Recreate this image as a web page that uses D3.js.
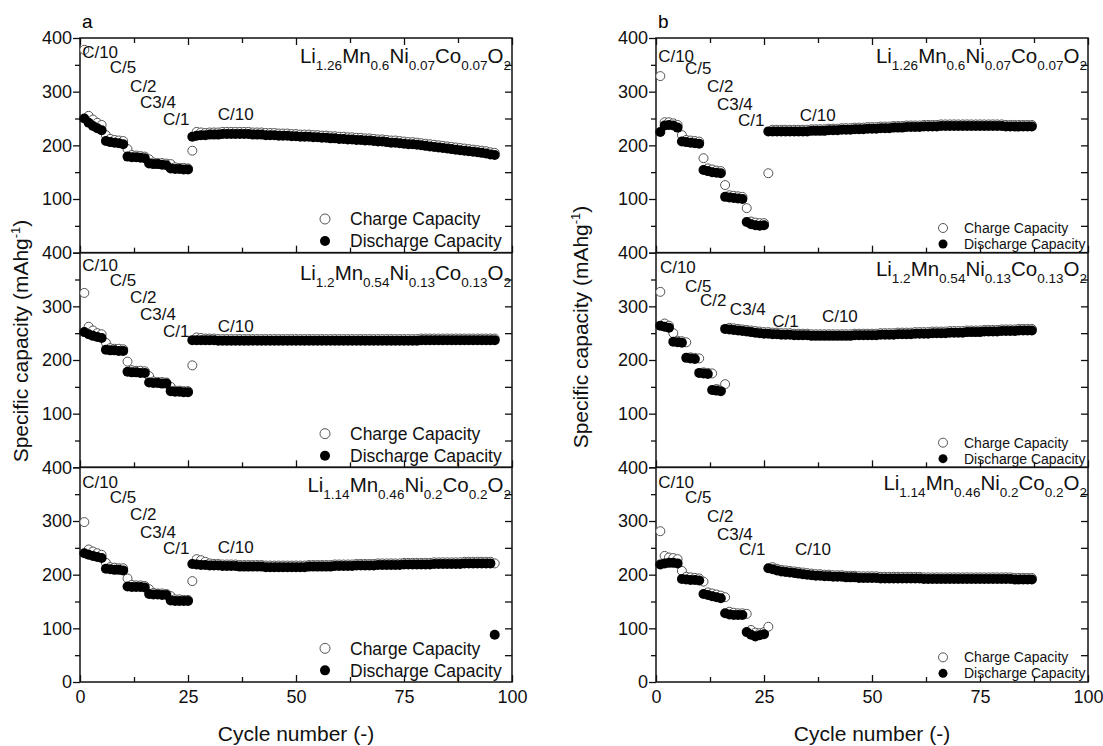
<!DOCTYPE html>
<html>
<head>
<meta charset="utf-8">
<script src="https://cdn.jsdelivr.net/npm/d3@7"></script>
<style>
  body { margin: 0; background: #fff; }
  svg { display: block; font-family: "Liberation Sans", Arial, sans-serif; }
</style>
</head>
<body>
<svg id="chart" width="1103" height="746"></svg>
<script>
// capacities in mAh/g, one value per cycle starting at cycle 1
const a1Charge = [378,255,248,242,238, 219,212,210,209,208, 193,182,181,180,179, 174,168,167,167,166, 165,159,158,158,157, 190,
  225,224,223,224,224,224,225,225,225,225,225,225,225,
  224,224,224,223,223,223,222,222,222,221,
  221,220,220,220,219,219,218,218,217,217,
  216,216,215,215,214,214,213,213,212,211,
  211,210,209,209,208,207,206,206,205,204,
  203,202,201,200,199,198,197,196,195,194,
  193,192,191,190,189,187,186];
const a1Discharge = [250,242,236,232,228, 208,206,205,204,202, 179,178,178,177,176, 166,165,165,164,163, 157,156,156,155,155, 216,
  218,219,219,220,220,220,221,221,221,221,221,221,221,
  220,220,220,219,219,219,218,218,218,217,
  217,216,216,216,215,215,214,214,213,213,
  212,212,211,211,210,210,209,209,208,207,
  207,206,205,205,204,203,202,202,201,200,
  199,198,197,196,195,194,193,192,191,190,
  189,188,187,186,185,183,182];

const a2Charge = [325,262,255,250,248, 232,222,221,221,220, 197,181,180,180,179, 170,160,159,159,158, 150,143,143,142,142, 190,
  242,241,240,240,240,239,239,239,239,239,239,239,239,
  239,239,239,239,239,239,239,239,239,239,
  239,239,239,239,239,239,239,239,239,239,
  239,239,239,239,239,239,239,239,239,239,
  239,239,239,239,239,239,239,239,239,240,
  240,240,240,240,240,240,240,240,240,240,
  240,240,240,240,240,240,240];
const a2Discharge = [252,248,245,243,241, 219,218,218,217,217, 178,177,177,176,176, 158,157,157,156,156, 142,141,141,140,140, 237,
  237,237,237,237,237,236,236,236,236,236,236,236,236,
  236,236,236,236,236,236,236,236,236,236,
  236,236,236,236,236,236,236,236,236,236,
  236,236,236,236,236,236,236,236,236,236,
  236,236,236,236,236,236,236,236,236,237,
  237,237,237,237,237,237,237,237,237,237,
  237,237,237,237,237,237,237];

const a3Charge = [298,247,243,240,237, 222,214,213,212,212, 193,181,180,180,179, 173,166,165,165,164, 160,154,154,153,153, 188,
  229,227,224,221,220,220,219,219,219,219,218,218,218,
  218,218,218,217,217,217,217,217,217,217,
  217,217,217,218,218,218,218,218,218,219,
  219,219,219,219,220,220,220,220,220,221,
  221,221,221,221,221,222,222,222,222,222,
  222,222,223,223,223,223,223,223,223,224,
  224,224,224,224,224,224,
  221];
const a3Discharge = [240,237,235,233,231, 211,210,209,209,208, 178,177,177,177,176, 164,163,163,162,162, 152,151,151,151,151, 220,
  219,218,218,217,217,217,216,216,216,216,215,215,215,
  215,215,215,214,214,214,214,214,214,214,
  214,214,214,215,215,215,215,215,215,216,
  216,216,216,216,217,217,217,217,217,218,
  218,218,218,218,218,219,219,219,219,219,
  219,219,220,220,220,220,220,220,220,221,
  221,221,221,221,221,221,
  88];

const b1Charge = [329,243,243,241,238, 219,210,209,208,207, 176,157,155,153,152, 126,107,106,105,104, 83,58,56,55,55, 148,
  229,229,229,229,229,229,229,229,229,230,230,230,230,
  231,231,231,232,232,232,233,233,233,234,
  234,234,235,235,235,236,236,236,237,237,
  237,237,238,238,238,238,239,239,239,239,
  239,239,239,239,239,239,239,239,239,239,
  239,238,238,238,238,238,238,238];
const b1Discharge = [225,237,238,237,233, 207,206,205,204,203, 154,152,150,149,148, 104,103,102,101,100, 57,53,51,50,51, 226,
  226,226,226,226,226,226,226,226,226,227,227,227,227,
  228,228,228,229,229,229,230,230,230,231,
  231,231,232,232,232,233,233,233,234,234,
  234,234,235,235,235,235,236,236,236,236,
  236,236,236,236,236,236,236,236,236,236,
  236,235,235,235,235,235,235,235];

const b2Charge = [327,268,264, 250,236,235, 233,205,204, 203,177,176, 175,146,145, 155,
  260,259,258,
  257,256,255,254,253,252,252,251,251,250,
  250,250,249,249,249,249,248,248,248,248,
  248,248,248,248,248,248,249,249,249,249,
  249,249,250,250,250,250,251,251,251,251,
  252,252,252,252,253,253,253,253,254,254,
  254,254,255,255,255,255,256,256,256,256,
  257,257,257,257,258,258,258,258];
const b2Discharge = [264,262,260, 234,233,232, 204,203,202, 176,175,174, 144,143,142,
  258,257,256,255,
  254,253,252,251,250,249,249,248,248,247,
  247,247,246,246,246,246,245,245,245,245,
  245,245,245,245,245,245,246,246,246,246,
  246,246,247,247,247,247,248,248,248,248,
  249,249,249,249,250,250,250,250,251,251,
  251,251,252,252,252,252,253,253,253,253,
  254,254,254,254,255,255,255,255];

const b3Charge = [281,235,232,231,229, 207,196,195,194,193, 187,167,165,163,161, 158,131,129,128,128, 127,97,92,91,93, 103,
  214,211,209,208,207,206,205,204,203,202,201,201,200,
  200,199,199,199,198,198,198,197,197,197,
  197,197,196,196,196,196,196,196,196,196,
  196,196,195,195,195,195,195,195,195,195,
  195,195,195,195,195,195,195,195,195,195,
  195,195,195,194,194,194,194,194];
const b3Discharge = [219,221,222,222,221, 192,191,190,190,189, 164,162,160,158,156, 128,126,125,125,125, 93,88,85,87,89, 212,
  210,208,206,205,204,203,202,201,200,199,198,198,197,
  197,196,196,196,195,195,195,194,194,194,
  194,194,193,193,193,193,193,193,193,193,
  193,193,192,192,192,192,192,192,192,192,
  192,192,192,192,192,192,192,192,192,192,
  192,192,192,191,191,191,191,191];

// compositions: main / subscript pieces alternate
const formulas = [
  ["Li", "1.26", "Mn", "0.6", "Ni", "0.07", "Co", "0.07", "O", "2"],
  ["Li", "1.2", "Mn", "0.54", "Ni", "0.13", "Co", "0.13", "O", "2"],
  ["Li", "1.14", "Mn", "0.46", "Ni", "0.2", "Co", "0.2", "O", "2"],
];
const rateLabels = ["C/10", "C/5", "C/2", "C3/4", "C/1", "C/10"];
const legendNames = ["Charge Capacity", "Discharge Capacity"];
const xTicks = [0, 25, 50, 75, 100];
const yTicks = [0, 100, 200, 300, 400];
const panelLetters = ["a", "b"];

// layout
const plotW = 432;
const plotTop = 38;
const subH = 214.67;
const panelX = [80, 656];

const panels = [
  {
    letter: panelLetters[0],
    rows: [
      { charge: a1Charge, discharge: a1Discharge, formula: formulas[0], fy: 25,
        rates: [[0.5, 363], [6.9, 335], [11.6, 299], [13.9, 270], [19.2, 238], [31.9, 247]] },
      { charge: a2Charge, discharge: a2Discharge, formula: formulas[1], fy: 27,
        rates: [[0.5, 366], [6.9, 338], [11.6, 307], [13.9, 275], [19.2, 243], [31.9, 253]] },
      { charge: a3Charge, discharge: a3Discharge, formula: formulas[2], fy: 25,
        rates: [[0.5, 361], [6.9, 333], [11.6, 301], [13.9, 268], [19.2, 238], [31.9, 240]] },
    ],
    legend: { x: 245, y: [181, 203], gap: 25, font: 17.5, r: 5 },
    yTitle: [28, 341],
  },
  {
    letter: panelLetters[1],
    rows: [
      { charge: b1Charge, discharge: b1Discharge, formula: formulas[0], fy: 25,
        rates: [[0.5, 355], [6.7, 333], [11.8, 299], [14.1, 266], [19, 236], [33.3, 245]] },
      { charge: b2Charge, discharge: b2Discharge, formula: formulas[1], fy: 23,
        rates: [[0.9, 363], [6.7, 327], [10.2, 301], [17.1, 283], [26.9, 262], [38.4, 270]] },
      { charge: b3Charge, discharge: b3Discharge, formula: formulas[2], fy: 23,
        rates: [[0.5, 361], [6.7, 333], [11.8, 298], [14.1, 264], [19.2, 236], [32.2, 236]] },
    ],
    legend: { x: 287, y: [190, 206], gap: 21, font: 14, r: 4.5 },
    yTitle: [588, 327],
  },
];

const svg = d3.select("#chart");

const x = d3.scaleLinear().domain([0, 100]).range([0, plotW]);
const y = d3.scaleLinear().domain([0, 400]).range([subH, 0]);

function styleAxis(sel) {
  sel.select(".domain").remove();
  sel.selectAll("line").attr("stroke", "#111").attr("stroke-width", 1.3);
  sel.selectAll("text")
    .attr("font-size", 18)
    .attr("font-family", '"Liberation Sans", Arial, sans-serif')
    .attr("fill", "#111");
}

panels.forEach((panel, pi) => {
  const pg = svg.append("g").attr("transform", `translate(${panelX[pi]},0)`);

  pg.append("text")
    .attr("x", 2)
    .attr("y", 28)
    .attr("font-size", 19)
    .text(panel.letter);

  panel.rows.forEach((row, ri) => {
    const top = plotTop + ri * subH;
    const g = pg.append("g").attr("transform", `translate(0,${top})`);
    const isLast = ri === panel.rows.length - 1;

    // bottom ticks (inward), labels only on the last row
    g.append("g")
      .attr("transform", `translate(0,${subH})`)
      .call(d3.axisBottom(x).tickValues(xTicks).tickSize(-7).tickPadding(8)
        .tickFormat(isLast ? d3.format("d") : () => ""))
      .call(styleAxis);
    g.append("g")
      .attr("transform", `translate(0,${subH})`)
      .call(d3.axisBottom(x).tickValues(d3.range(12.5, 100, 25)).tickSize(-5).tickFormat(() => ""))
      .call(styleAxis);

    if (ri === 0) {
      g.append("g")
        .call(d3.axisTop(x).tickValues(xTicks).tickSize(-7).tickFormat(() => ""))
        .call(styleAxis);
      g.append("g")
        .call(d3.axisTop(x).tickValues(d3.range(12.5, 100, 25)).tickSize(-5).tickFormat(() => ""))
        .call(styleAxis);
    }

    // left ticks point outward
    g.append("g")
      .call(d3.axisLeft(y).tickValues(yTicks).tickSize(7).tickPadding(1)
        .tickFormat((d) => (isLast || d > 0 ? d : "")))
      .call(styleAxis);
    g.append("g")
      .call(d3.axisLeft(y).tickValues(d3.range(50, 400, 100)).tickSize(5).tickFormat(() => ""))
      .call(styleAxis);

    // right ticks point inward
    g.append("g")
      .attr("transform", `translate(${plotW},0)`)
      .call(d3.axisRight(y).tickValues(d3.range(50, 400, 50)).tickSize(-7).tickFormat(() => ""))
      .call(styleAxis);

    g.append("rect")
      .attr("width", plotW)
      .attr("height", subH)
      .attr("fill", "none")
      .attr("stroke", "#111")
      .attr("stroke-width", 1.5);

    g.append("g")
      .selectAll("circle")
      .data(row.charge)
      .join("circle")
      .attr("cx", (d, i) => x(i + 1))
      .attr("cy", (d) => y(d))
      .attr("r", 4.5)
      .attr("fill", "#fff")
      .attr("stroke", "#555")
      .attr("stroke-width", 1);

    g.append("g")
      .selectAll("circle")
      .data(row.discharge)
      .join("circle")
      .attr("cx", (d, i) => x(i + 1))
      .attr("cy", (d) => y(d))
      .attr("r", 5)
      .attr("fill", "#000");

    // C-rate annotations
    g.append("g")
      .selectAll("text")
      .data(rateLabels)
      .join("text")
      .attr("x", (d, i) => x(row.rates[i][0]))
      .attr("y", (d, i) => y(row.rates[i][1]))
      .attr("font-size", 17)
      .attr("fill", "#111")
      .text((d) => d);

    // composition, right aligned
    const ft = g.append("text")
      .attr("x", plotW - 1)
      .attr("y", row.fy)
      .attr("text-anchor", "end")
      .attr("fill", "#111");
    row.formula.forEach((part, k) => {
      const sub = k % 2 === 1;
      ft.append("tspan")
        .attr("font-size", sub ? 13.5 : 20.5)
        .attr("dy", k === 0 ? 0 : sub ? 7 : -7)
        .text(part);
    });

    // legend
    const lg = panel.legend;
    legendNames.forEach((name, k) => {
      g.append("circle")
        .attr("cx", lg.x)
        .attr("cy", lg.y[k])
        .attr("r", lg.r)
        .attr("fill", k === 0 ? "#fff" : "#000")
        .attr("stroke", k === 0 ? "#555" : "none");
      g.append("text")
        .attr("x", lg.x + lg.gap)
        .attr("y", lg.y[k] + lg.font * 0.36)
        .attr("font-size", lg.font)
        .attr("fill", "#111")
        .text(name);
    });
  });

  pg.append("text")
    .attr("x", plotW / 2)
    .attr("y", 741)
    .attr("text-anchor", "middle")
    .attr("font-size", 21)
    .attr("fill", "#111")
    .text("Cycle number (-)");

  const yt = svg.append("text")
    .attr("transform", `translate(${panel.yTitle[0]},${panel.yTitle[1]}) rotate(-90)`)
    .attr("text-anchor", "middle")
    .attr("font-size", 21)
    .attr("fill", "#111");
  yt.append("tspan").text("Specific capacity (mAhg");
  yt.append("tspan").attr("font-size", 13).attr("dy", -8).text("-1");
  yt.append("tspan").attr("dy", 8).text(")");
});
</script>
</body>
</html>
